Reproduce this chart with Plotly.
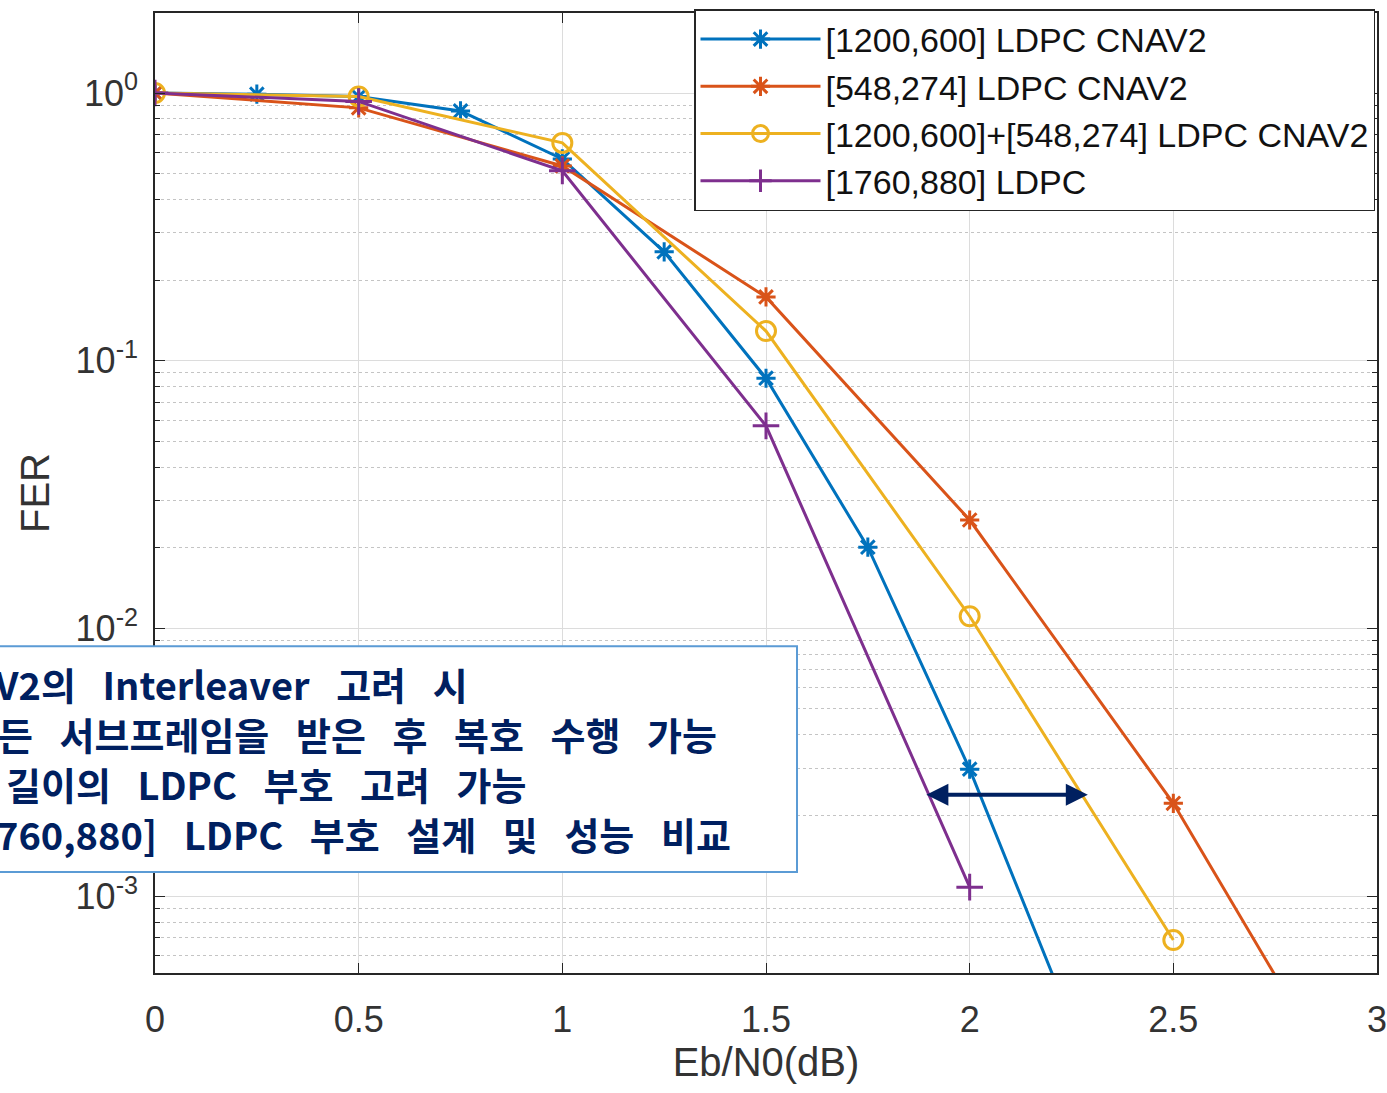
import numpy as np
import plotly.graph_objects as go

# ---- data ----
x_blue = [0, 0.25, 0.5, 0.75, 1.0, 1.25, 1.5, 1.75, 2.0, 2.25]
y_blue = [1.0, 0.99, 0.97, 0.857, 0.567, 0.255, 0.086, 0.0201, 0.00298, 0.00034]

x_orange = [0, 0.5, 1.0, 1.5, 2.0, 2.5, 3.0]
y_orange = [1.0, 0.88, 0.534, 0.173, 0.0254, 0.00222, 0.000115]

x_yellow = [0, 0.5, 1.0, 1.5, 2.0, 2.5]
y_yellow = [1.0, 0.97, 0.651, 0.129, 0.0111, 0.000685]

x_purple = [0, 0.5, 1.0, 1.5, 2.0]
y_purple = [1.0, 0.93, 0.512, 0.0571, 0.00108]

names = ["[1200,600] LDPC CNAV2", "[548,274] LDPC CNAV2",
         "[1200,600]+[548,274] LDPC CNAV2", "[1760,880] LDPC"]

y_tickvals = [1e-3, 1e-2, 1e-1, 1]
y_ticktext = ["10<sup>-3</sup>", "10<sup>-2</sup>", "10<sup>-1</sup>", "10<sup>0</sup>"]
x_tickvals = [0, 0.5, 1, 1.5, 2, 2.5, 3]
x_ticktext = ["0", "0.5", "1", "1.5", "2", "2.5", "3"]

note_lines = ["V2의 Interleaver 고려 시",
              "든 서브프레임을 받은 후 복호 수행 가능",
              "길이의 LDPC 부호 고려 가능",
              "760,880] LDPC 부호 설계 및 성능 비교"]

arrow_x = [1.89, 2.29]
arrow_y = 0.00239

# ---- layout geometry (pixels) ----
W, H = 1387, 1093
ML, MR, MT, MB = 155, 10, 12, 120
PW, PH = W - ML - MR, H - MT - MB

def px(x):
    return (x - ML) / PW

def py(y):
    return 1 - (y - MT) / PH

colors = ["#0072BD", "#D95319", "#EDB120", "#7E2F8E"]
symbols = ["asterisk-open", "asterisk-open", "circle-open", "cross-thin-open"]
msizes = [16, 16, 19, 19]
series = [(x_blue, y_blue), (x_orange, y_orange), (x_yellow, y_yellow), (x_purple, y_purple)]

fig = go.Figure()
for (xs, ys), nm, c, s, ms in zip(series, names, colors, symbols, msizes):
    fig.add_trace(go.Scatter(
        x=xs, y=ys, name=nm, mode="lines+markers",
        line=dict(color=c, width=3),
        marker=dict(symbol=s, size=ms, color=c, line=dict(color=c, width=3)),
        cliponaxis=True,
    ))

minor_vals = []
for e in range(-4, 1):
    for m in range(2, 10):
        minor_vals.append(m * 10.0 ** e)

tick_font = dict(family="Liberation Sans, Arial", size=36, color="#333333")

fig.update_xaxes(
    range=[0, 3], tickmode="array", tickvals=x_tickvals, ticktext=x_ticktext,
    ticks="inside", ticklen=10, tickcolor="#262626",
    showline=True, linecolor="#262626", linewidth=1.5, mirror="ticks",
    showgrid=True, gridcolor="#dcdcdc", gridwidth=1, automargin=False,
    ticklabeloverflow="allow",
    zeroline=False, tickfont=tick_font, ticklabelstandoff=14,
    title=dict(text="Eb/N0(dB)", font=dict(family="Liberation Sans, Arial", size=40, color="#333333"),
               standoff=8),
)
fig.update_yaxes(
    type="log", range=[np.log10(5.16e-4), np.log10(1.99)],
    tickmode="array", tickvals=y_tickvals, ticktext=y_ticktext,
    ticks="inside", ticklen=10, tickcolor="#262626",
    showline=True, linecolor="#262626", linewidth=1.5, mirror="ticks",
    showgrid=True, gridcolor="#dcdcdc", gridwidth=1, automargin=False,
    zeroline=False, tickfont=tick_font, ticklabelstandoff=8,
    minor=dict(tickmode="array", tickvals=minor_vals, ticks="inside", ticklen=5,
               tickcolor="#262626", showgrid=True, gridcolor="#c4c4c4",
               griddash="dot", gridwidth=1),
    title=dict(text="FER", font=dict(family="Liberation Sans, Arial", size=40, color="#333333"),
               standoff=14),
)

# text box
fig.add_shape(type="rect", xref="paper", yref="paper",
              x0=px(-60), x1=px(797), y0=py(872), y1=py(646),
              fillcolor="white", line=dict(color="#5B9BD5", width=2), layer="above")

line_y = [683, 733, 783, 833]
line_x = [-8, -4, 4, -6]
for t, yy, xx in zip(note_lines, line_y, line_x):
    fig.add_annotation(xref="paper", yref="paper", x=px(xx), y=py(yy),
                       xanchor="left", yanchor="middle", showarrow=False,
                       text="<b>" + t.replace(" ", "\u2002\u2009") + "</b>",
                       font=dict(family="Noto Sans CJK KR", size=38, color="#002060"))

# double arrow
fig.add_annotation(xref="x", yref="y", axref="x", ayref="y",
                   x=arrow_x[1], y=np.log10(arrow_y), ax=arrow_x[0], ay=np.log10(arrow_y),
                   text="", showarrow=True, arrowside="end+start", arrowhead=2,
                   arrowsize=1.1, arrowwidth=4, arrowcolor="#002060")

fig.update_layout(
    width=W, height=H, margin=dict(l=ML, r=MR, t=MT, b=MB),
    paper_bgcolor="white", plot_bgcolor="white",
    showlegend=True,
    legend=dict(x=px(694), y=py(9), xanchor="left", yanchor="top",
                bgcolor="white", bordercolor="#262626", borderwidth=1.5,
                font=dict(family="Liberation Sans, Arial", size=34, color="#111111"),
                itemwidth=120, tracegroupgap=0),
)

fig.write_html("out.html")
